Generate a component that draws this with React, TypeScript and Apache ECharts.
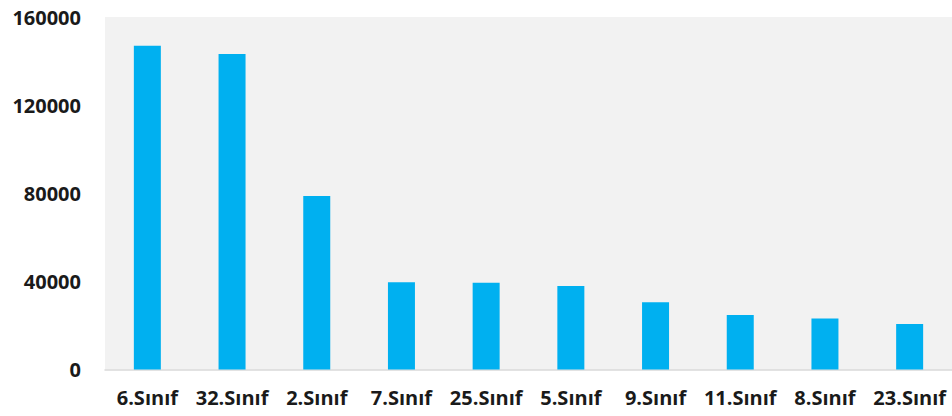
import React, { useEffect, useRef } from "react";
import * as echarts from "echarts";

const categories = ["6.Sınıf", "32.Sınıf", "2.Sınıf", "7.Sınıf", "25.Sınıf", "5.Sınıf", "9.Sınıf", "11.Sınıf", "8.Sınıf", "23.Sınıf"];
const values = [147000, 143200, 78800, 39600, 39400, 37900, 30500, 24700, 23200, 20700];
const yTicks = { min: 0, max: 160000, interval: 40000 };

export default function App() {
  const ref = useRef<HTMLDivElement>(null);
  useEffect(() => {
    if (!ref.current) return;
    const chart = echarts.init(ref.current, null, { renderer: "svg" });
    chart.setOption({
      animation: false,
      backgroundColor: "#ffffff",
      grid: {
        show: true,
        left: 105,
        top: 17,
        width: 850,
        bottom: 46.5,
        backgroundColor: "#f2f2f2",
        borderWidth: 0,
      },
      xAxis: {
        type: "category",
        data: categories,
        axisLine: { show: true, lineStyle: { color: "#d9d9d9", width: 1.5 } },
        axisTick: { show: false },
        axisLabel: {
          interval: 0,
          color: "#1a1a1a",
          fontFamily: "Open Sans",
          fontWeight: "bold",
          fontSize: 20,
          margin: 18,
        },
      },
      yAxis: {
        type: "value",
        min: yTicks.min,
        max: yTicks.max,
        interval: yTicks.interval,
        splitLine: { show: false },
        axisLine: { show: false },
        axisTick: { show: false },
        axisLabel: {
          color: "#1a1a1a",
          fontFamily: "Open Sans",
          fontWeight: "bold",
          fontSize: 20,
          margin: 24,
          formatter: (v: number) => String(v),
        },
      },
      series: [
        {
          type: "bar",
          data: values,
          barWidth: 27,
          itemStyle: { color: "#00b0f0" },
        },
      ],
    });
    return () => chart.dispose();
  }, []);
  return <div ref={ref} style={{ position: "fixed", left: 0, top: 0, width: 952, height: 416 }} />;
}
